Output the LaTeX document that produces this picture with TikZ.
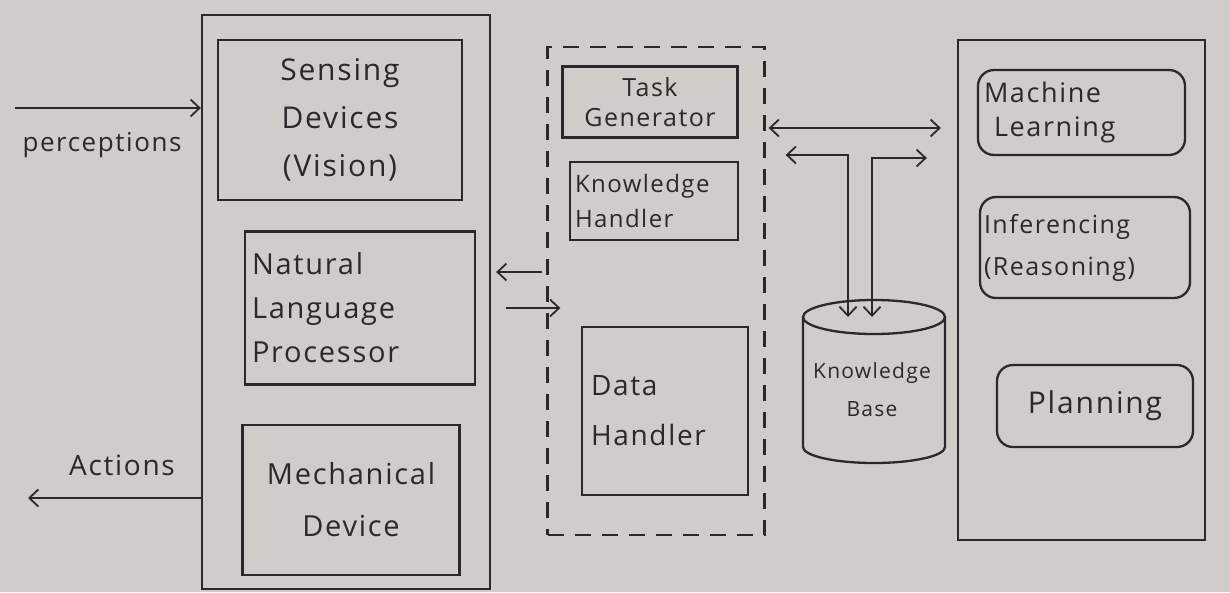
\documentclass[tikz,border=0pt]{standalone}
\usepackage{fontspec}
\setmainfont{Open Sans}[LetterSpace=6]
\usetikzlibrary{arrows.meta}
\definecolor{paper}{RGB}{207,204,201}
\definecolor{ink}{RGB}{42,40,44}
\begin{document}
\begin{tikzpicture}[x=1pt,y=-1pt,
  line width=2.3pt, draw=ink, text=ink,
  >={Straight Barb[length=9pt,width=17pt,line width=1.8pt]},
  frame/.style={draw=ink, line width=2.3pt, inner sep=0pt},
  unit/.style={draw=ink, line width=2.3pt, inner sep=0pt, align=center,
               font=\fontsize{30}{48}\selectfont},
  smallunit/.style={unit, font=\fontsize{25}{30}\selectfont},
  module/.style={unit, rounded corners=16pt, font=\fontsize{27}{40}\selectfont},
  ctrlbox/.style={draw=ink, line width=2.3pt, dash pattern=on 16pt off 11pt, inner sep=0pt},
  caption/.style={font=\fontsize{26}{30}\selectfont, inner sep=0pt}]

\fill[paper] (0,0) rectangle (1230,592);
\useasboundingbox (0,0) rectangle (1230,592);

% agent interface column
\node[frame, minimum width=288pt, minimum height=574pt] (agent) at (346,302) {};
\node[unit, minimum width=244pt, minimum height=160pt] (sens) at (340,120)
  {Sensing\\Devices\\(Vision)};
\node[unit, minimum width=230pt, minimum height=153pt, text width=216pt, align=left,
      font=\fontsize{29}{44}\selectfont] (nlp) at (360,308)
  {Natural\\Language\\Processor};
\node[unit, minimum width=217pt, minimum height=150pt,
      font=\fontsize{29}{52}\selectfont] (mech) at (351,500)
  {Mechanical\\Device};

% control unit
\node[ctrlbox, minimum width=217pt, minimum height=488pt] (ctrl) at (656,291) {};
\node[smallunit, minimum width=175pt, minimum height=71pt] (task) at (650,102)
  {Task\\Generator};
\node[smallunit, minimum width=168pt, minimum height=78pt, text width=158pt, align=left,
      font=\fontsize{24}{35}\selectfont] (kh) at (654,201)
  {Knowledge\\Handler};
\node[unit, minimum width=166pt, minimum height=168pt, text width=148pt, align=left,
      font=\fontsize{28}{50}\selectfont] (data) at (665,411)
  {Data\\Handler};

% knowledge base cylinder
\coordinate (kbtop) at (874,317);
\draw (874,317) ellipse [x radius=71, y radius=17];
\draw (803,317) -- (803,447) arc[start angle=180, end angle=0, x radius=71, y radius=16] -- (945,317);
\node[font=\fontsize{21}{38}\selectfont, align=center] (kb) at (872,390) {Knowledge\\Base};

% reasoning modules
\node[frame, minimum width=247pt, minimum height=500pt] (right) at (1081.5,290) {};
\node[module, minimum width=207pt, minimum height=85pt, text width=195pt, align=left,
      font=\fontsize{27}{34}\selectfont] (ml) at (1081.5,112.5)
  {Machine\\\hspace*{10pt}Learning};
\node[module, minimum width=210pt, minimum height=101pt, text width=202pt, align=left,
      font=\fontsize{25}{42}\selectfont] (inf) at (1085,247.5)
  {Inferencing\\(Reasoning)};
\node[module, minimum width=196pt, minimum height=82pt,
      font=\fontsize{30}{40}\selectfont] (plan) at (1095,406)
  {Planning};

% environment links
\coordinate (pin) at (15,108);
\draw[->] (pin) -- (pin -| agent.west);
\node[caption] (perc) at (102,145) {perceptions};
\coordinate (aout) at (28,498);
\draw[->] (agent.west |- aout) -- (aout);
\node[caption, font=\fontsize{28}{30}\selectfont] (act) at (122,465) {Actions};

% agent <-> control unit
\coordinate (l1) at (0,272);
\coordinate (l2) at (0,308);
\draw[->, shorten >=5pt, shorten <=4pt] (ctrl.west |- l1) -- (agent.east |- l1);
\draw[->, shorten <=15pt, shorten >=-14pt] (agent.east |- l2) -- (ctrl.west |- l2);

% control unit <-> modules and knowledge base
\coordinate (r0) at (0,128);
\draw[<->, shorten <=3pt, shorten >=16pt] (ctrl.east |- r0) -- (right.west |- r0);
\coordinate (j1) at (848,155);
\coordinate (j2) at (872,158);
\draw[<->, shorten <=20pt] (ctrl.east |- j1) -- (j1) -- (j1 |- kbtop);
\draw[<->, shorten <=30pt] (right.west |- j2) -- (j2) -- (j2 |- kbtop);
\end{tikzpicture}
\end{document}
